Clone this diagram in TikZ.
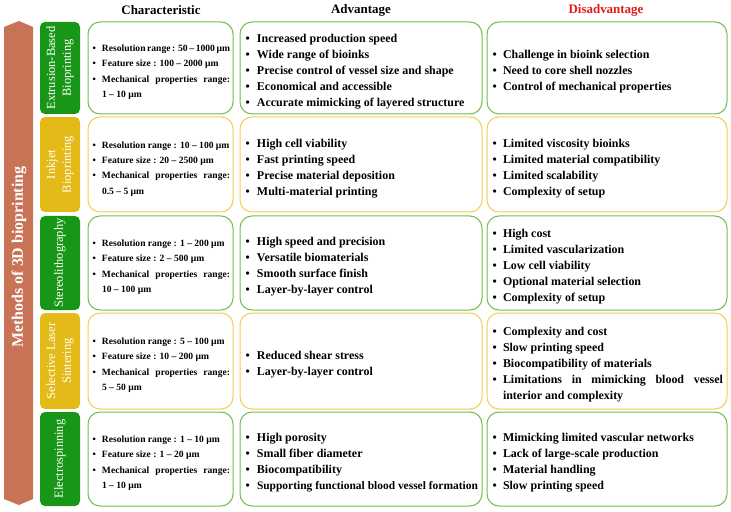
\documentclass[tikz,border=0pt]{standalone}
\usepackage{fontspec}
\setmainfont{Liberation Serif}
\definecolor{gline}{RGB}{112,190,80}
\definecolor{yline}{RGB}{245,205,80}
\definecolor{gfill}{RGB}{24,150,24}
\definecolor{yfill}{RGB}{228,186,24}
\definecolor{arrowc}{RGB}{200,115,85}
\definecolor{redh}{RGB}{230,25,25}
\newcommand\bul[2]{\par\noindent\hangindent=#1\hangafter=1\hyphenpenalty=10000\makebox[#1][l]{\hspace{1.5bp}\textbullet}#2\par}
\newcommand\ci[1]{\bul{11bp}{#1}}
\newcommand\ai[1]{\bul{13bp}{#1}}
\newcommand\di[1]{\bul{12bp}{#1}}
\tikzset{
  cell/.style={line width=1bp, rounded corners=12bp, inner xsep=4bp, inner ysep=0pt, align=justify, fill=white},
  gcell/.style={cell, draw=gline},
  ycell/.style={cell, draw=yline},
  charcol/.style={text width=139bp, inner xsep=3bp, font=\bfseries\fontsize{9.6}{15.5}\selectfont},
  advcol/.style={text width=234bp, font=\bfseries\fontsize{12}{16}\selectfont},
  discol/.style={text width=232bp, font=\bfseries\fontsize{12}{16}\selectfont},
  lab/.style={rotate=90, rounded corners=5bp, minimum height=40bp, inner sep=0pt, align=center, text=white, font=\fontsize{12.5}{16}\selectfont},
  glab/.style={lab, fill=gfill},
  ylab/.style={lab, fill=yfill},
  head/.style={font=\bfseries\fontsize{13}{15}\selectfont, inner sep=0pt}
}
\begin{document}
\begin{tikzpicture}[x=1bp,y=-1bp]
\useasboundingbox (0,0) rectangle (731,512);
% big arrow
\fill[arrowc] (4,27) -- (19,21) -- (33,27) -- (33,499) -- (19,505) -- (4,499) -- cycle;
\node[rotate=90, text=white, font=\bfseries\fontsize{16}{18}\selectfont, inner sep=0pt] (methods) at (19,257) {Methods of 3D bioprinting};
% headers
\node[head] (hchar) at (161,10) {Characteristic};
\node[head] (hadv) at (361,10) {Advantage};
\node[head, text=redh] (hdis) at (606,10) {Disadvantage};
% row labels
\node[glab, minimum width=92bp] (l1) at (60,68) {Extrusion-Based\\Bioprinting};
\node[ylab, minimum width=95bp] (l2) at (60,164.5) {Inkjet\\Bioprinting};
\node[glab, minimum width=94bp] (l3) at (60,263) {Stereolithography};
\node[ylab, minimum width=96bp] (l4) at (60,361) {Selective Laser\\Sintering};
\node[glab, minimum width=94bp] (l5) at (60,459) {Electrospinning};
% characteristic column
\node[gcell, charcol, minimum height=92bp] (c1) at (160.5,68) {\ci{Resolution range : 50 – 1000 µm}\ci{Feature size : 100 – 2000 µm}\ci{Mechanical properties range:\linebreak 1 – 10 µm}};
\node[ycell, charcol, minimum height=95bp] (c2) at (160.5,164.5) {\ci{Resolution range : 10 – 100 µm}\ci{Feature size : 20 – 2500 µm}\ci{Mechanical properties range:\linebreak 0.5 – 5 µm}};
\node[gcell, charcol, minimum height=94bp] (c3) at (160.5,263) {\ci{Resolution range : 1 – 200 µm}\ci{Feature size : 2 – 500 µm}\ci{Mechanical properties range:\linebreak 10 – 100 µm}};
\node[ycell, charcol, minimum height=96bp] (c4) at (160.5,361) {\ci{Resolution range : 5 – 100 µm}\ci{Feature size : 10 – 200 µm}\ci{Mechanical properties range:\linebreak 5 – 50 µm}};
\node[gcell, charcol, minimum height=94bp] (c5) at (160.5,459) {\ci{Resolution range : 1 – 10 µm}\ci{Feature size : 1 – 20 µm}\ci{Mechanical properties range:\linebreak 1 – 10 µm}};
% advantage column
\node[gcell, advcol, minimum height=92bp] (a1) at (361,68) {\ai{Increased production speed}\ai{Wide range of bioinks}\ai{Precise control of vessel size and shape}\ai{Economical and accessible}\ai{Accurate mimicking of layered structure}};
\node[ycell, advcol, minimum height=95bp] (a2) at (361,164.5) {\ai{High cell viability}\ai{Fast printing speed}\ai{Precise material deposition}\ai{Multi-material printing}};
\node[gcell, advcol, minimum height=94bp] (a3) at (361,263) {\ai{High speed and precision}\ai{Versatile biomaterials}\ai{Smooth surface finish}\ai{Layer-by-layer control}};
\node[ycell, advcol, minimum height=96bp] (a4) at (361,361) {\ai{Reduced shear stress}\ai{Layer-by-layer control}};
\node[gcell, advcol, minimum height=94bp] (a5) at (361,459) {\ai{High porosity}\ai{Small fiber diameter}\ai{Biocompatibility}\ai{{\fontsize{11.5}{16}\selectfont Supporting functional blood vessel formation}}};
% disadvantage column
\node[gcell, discol, minimum height=92bp] (d1) at (607,68) {\di{Challenge in bioink selection}\di{Need to core shell nozzles}\di{Control of mechanical properties}};
\node[ycell, discol, minimum height=95bp] (d2) at (607,164.5) {\di{Limited viscosity bioinks}\di{Limited material compatibility}\di{Limited scalability}\di{Complexity of setup}};
\node[gcell, discol, minimum height=94bp] (d3) at (607,263) {\di{High cost}\di{Limited vascularization}\di{Low cell viability}\di{Optional material selection}\di{Complexity of setup}};
\node[ycell, discol, minimum height=96bp] (d4) at (607,361) {\di{Complexity and cost}\di{Slow printing speed}\di{Biocompatibility of materials}\di{Limitations in mimicking blood vessel\linebreak interior and complexity}};
\node[gcell, discol, minimum height=94bp] (d5) at (607,459) {\di{Mimicking limited vascular networks}\di{Lack of large-scale production}\di{Material handling}\di{Slow printing speed}};
\end{tikzpicture}
\end{document}
